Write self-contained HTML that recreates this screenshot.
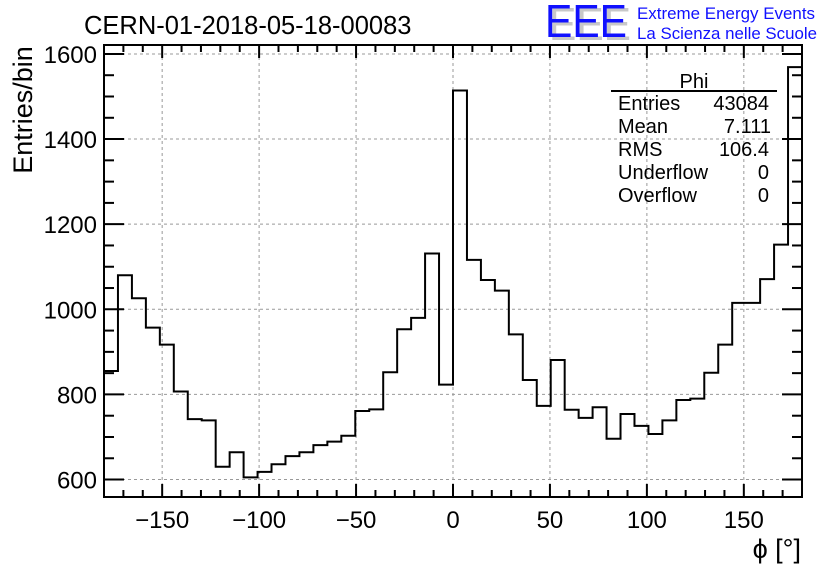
<!DOCTYPE html>
<html><head><meta charset="utf-8"><style>
html,body{margin:0;padding:0;background:#fff;}
svg{display:block;font-family:"Liberation Sans",sans-serif;}
</style></head><body>
<svg id="chart" width="836" height="572" viewBox="0 0 836 572" xmlns="http://www.w3.org/2000/svg">
<rect width="836" height="572" fill="#fff"/>
<g id="grid"></g>
<path id="hist" fill="none" stroke="#000" stroke-width="2"/>
<g id="ticks"></g>
<rect x="104" y="45" width="698" height="452" fill="none" stroke="#000" stroke-width="2"/>
<g id="labels" font-size="24"></g>
<text x="84" y="34" font-size="25.5">CERN-01-2018-05-18-00083</text>
<text transform="translate(32,110) rotate(-90)" text-anchor="middle" font-size="27">Entries/bin</text>
<text x="801" y="558" text-anchor="end" font-size="27">ϕ [°]</text>
<g>
<text x="549" y="40" font-size="46" fill="#c8c8c8" textLength="82" lengthAdjust="spacingAndGlyphs">EEE</text>
<text x="545" y="37" font-size="46" fill="#1010ff" textLength="82" lengthAdjust="spacingAndGlyphs">EEE</text>
<text x="637" y="19" font-size="16.5" fill="#1010ff" textLength="178" lengthAdjust="spacingAndGlyphs">Extreme Energy Events</text>
<text x="637" y="39" font-size="16.5" fill="#1010ff" textLength="180" lengthAdjust="spacingAndGlyphs">La Scienza nelle Scuole</text>
</g>
<g font-size="20">
<text x="694" y="88" text-anchor="middle">Phi</text>
<line x1="611" y1="91" x2="777" y2="91" stroke="#000" stroke-width="2"/>
<text x="618" y="110">Entries</text><text x="769" y="110" text-anchor="end">43084</text>
<text x="618" y="133">Mean</text><text x="771" y="133" text-anchor="end">7.111</text>
<text x="618" y="156">RMS</text><text x="769" y="156" text-anchor="end">106.4</text>
<text x="618" y="179">Underflow</text><text x="769" y="179" text-anchor="end">0</text>
<text x="618" y="202">Overflow</text><text x="769" y="202" text-anchor="end">0</text>
</g>
</svg>
<script>
const counts = [855,1080,1026,957,917,807,742,739,630,664,605,618,636,655,664,681,689,703,761,765,852,953,980,1131,823,
1514,1116,1069,1044,941,834,773,881,764,745,770,696,754,726,707,739,787,790,851,917,1015,1015,1071,1152,1569];
const xTickValues = [-150,-100,-50,0,50,100,150];
const xTickLabels = ["\u2212150","\u2212100","\u221250","0","50","100","150"];
const yTickValues = [600,800,1000,1200,1400,1600];
const yTickLabels = ["600","800","1000","1200","1400","1600"];
const xMin=-180, xMax=180, yMin=559, yMax=1621;
const L=104,R=802,T=45,B=497;
function xs(v){return L+(v-xMin)/(xMax-xMin)*(R-L);}
function ys(v){return B-(v-yMin)/(yMax-yMin)*(B-T);}
const NS="http://www.w3.org/2000/svg";
function mk(tag,attrs,parent){const e=document.createElementNS(NS,tag);for(const k in attrs)e.setAttribute(k,attrs[k]);parent.appendChild(e);return e;}
const grid=document.getElementById('grid'),ticks=document.getElementById('ticks'),labels=document.getElementById('labels');
const bw=(xMax-xMin)/counts.length;
let d="M"+xs(xMin)+","+ys(counts[0]);
counts.forEach((c,i)=>{const x0=xs(xMin+i*bw),x1=xs(xMin+(i+1)*bw);d+=(i?" L"+x0+","+ys(c):"")+" L"+x1+","+ys(c);});
document.getElementById('hist').setAttribute('d',d);
xTickValues.forEach((v,i)=>{
  const g=mk('line',{x1:xs(v),x2:xs(v),y1:T,y2:B,stroke:'#999','stroke-dasharray':'3,3','stroke-width':1},grid);
  
  
  const t=mk('text',{x:xs(v),y:528,'text-anchor':'middle'},labels);
  
  
  t.textContent=xTickLabels[i];
});
yTickValues.forEach((v,i)=>{
  const g=mk('line',{x1:L,x2:R,y1:ys(v),y2:ys(v),stroke:'#999','stroke-dasharray':'3,3','stroke-width':1},grid);
  
  
  const t=mk('text',{x:97,y:ys(v)+9,'text-anchor':'end'},labels);
  
  
  t.textContent=yTickLabels[i];
});
for(let v=-180;v<=180;v+=10){
  const len=(v%50===0)?13:7;
  mk('line',{x1:xs(v),x2:xs(v),y1:B,y2:B-len,stroke:'#000','stroke-width':2},ticks);
  mk('line',{x1:xs(v),x2:xs(v),y1:T,y2:T+len,stroke:'#000','stroke-width':2},ticks);
}
for(let v=600;v<=1600;v+=50){
  const len=(v%200===0)?20:10;
  mk('line',{x1:L,x2:L+len,y1:ys(v),y2:ys(v),stroke:'#000','stroke-width':2},ticks);
  mk('line',{x1:R,x2:R-len,y1:ys(v),y2:ys(v),stroke:'#000','stroke-width':2},ticks);
}
</script>
</body></html>
